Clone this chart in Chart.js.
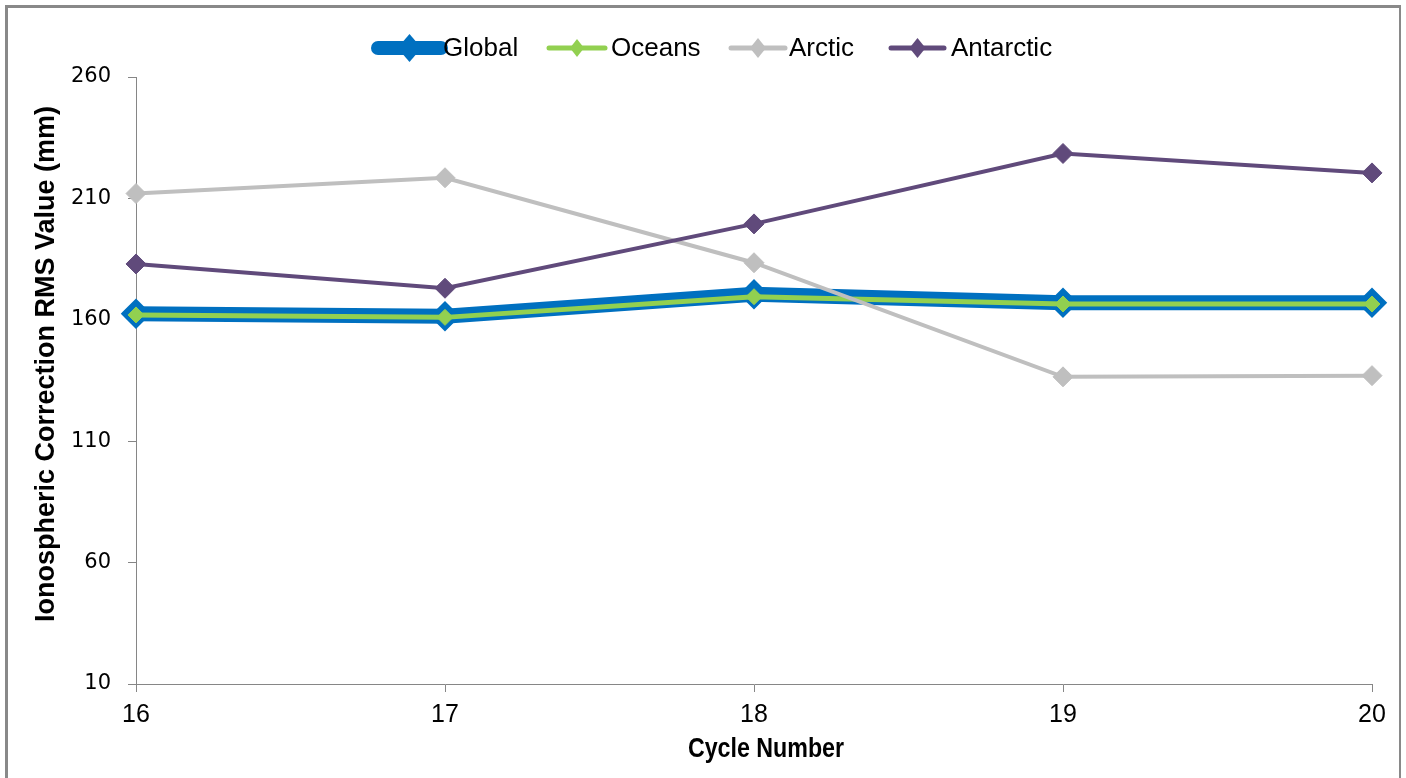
<!DOCTYPE html>
<html>
<head>
<meta charset="utf-8">
<script src="https://cdn.jsdelivr.net/npm/chart.js@4.4.1/dist/chart.umd.min.js"></script>
<style>
  html, body { margin: 0; padding: 0; background: #ffffff; }
  #wrap { position: relative; width: 1406px; height: 778px; }
  canvas { display: block; }
</style>
</head>
<body>
<div id="wrap"><canvas id="c" width="1406" height="778"></canvas></div>
<script>
// ---- data ----
const cycles = ['16', '17', '18', '19', '20'];
const globalVals    = [162.5, 161.5, 170.5, 167.0, 167.0];
const oceansVals    = [162.0, 161.0, 169.5, 166.5, 166.5];
const arcticVals    = [212.0, 218.5, 183.5, 136.5, 137.0];
const antarcticVals = [183.0, 173.0, 199.5, 228.5, 220.5];
const seriesNames = ['Global', 'Oceans', 'Arctic', 'Antarctic'];
const yTicks = [10, 60, 110, 160, 210, 260];
const yTitle = 'Ionospheric Correction RMS Value (mm)';
const xTitle = 'Cycle Number';

const colors = { Global: '#0070C0', Oceans: '#92D050', Arctic: '#BFBFBF', Antarctic: '#604A7B' };

const chromePlugin = {
  id: 'chrome',
  afterDraw(chart) {
    const ctx = chart.ctx;
    ctx.save();
    // outer frame
    ctx.fillStyle = '#898989';
    ctx.fillRect(5, 5, 1396, 3);
    ctx.fillRect(5, 5, 3, 773);
    ctx.fillRect(1399, 5, 2, 773);

    // legend
    const legend = [
      { name: 'Global',    x1: 378, x2: 441, lw: 14, r: 12, tx: 443 },
      { name: 'Oceans',    x1: 549, x2: 605, lw: 5,  r: 7,  tx: 611 },
      { name: 'Arctic',    x1: 731, x2: 785, lw: 5,  r: 8,  tx: 789 },
      { name: 'Antarctic', x1: 891, x2: 944, lw: 5,  r: 8,  tx: 951 }
    ];
    const ly = 48;
    legend.forEach(it => {
      const col = colors[it.name];
      ctx.strokeStyle = col;
      ctx.lineWidth = it.lw;
      ctx.lineCap = 'round';
      ctx.beginPath();
      ctx.moveTo(it.x1, ly);
      ctx.lineTo(it.x2, ly);
      ctx.stroke();
      const cx = (it.x1 + it.x2) / 2;
      ctx.fillStyle = col;
      ctx.beginPath();
      ctx.moveTo(cx - it.r, ly);
      ctx.lineTo(cx, ly - it.r - 2);
      ctx.lineTo(cx + it.r, ly);
      ctx.lineTo(cx, ly + it.r + 2);
      ctx.closePath();
      ctx.fill();
      ctx.fillStyle = '#000000';
      ctx.font = '26px "Liberation Sans", Arial, sans-serif';
      ctx.textAlign = 'left';
      ctx.textBaseline = 'middle';
      ctx.fillText(it.name, it.tx, ly + 1);
    });

    // axis titles
    ctx.fillStyle = '#000000';
    ctx.font = 'bold 27px "Liberation Sans", Arial, sans-serif';
    ctx.textAlign = 'center';
    ctx.textBaseline = 'middle';
    // x title
    ctx.save();
    ctx.translate(766, 750);
    ctx.scale(0.86, 1);
    ctx.fillText(xTitle, 0, 0);
    ctx.restore();
    // y title
    ctx.save();
    ctx.translate(47, 364);
    ctx.rotate(-Math.PI / 2);
    ctx.fillText(yTitle, 0, 0);
    ctx.restore();
    ctx.restore();
  }
};

new Chart(document.getElementById('c'), {
  type: 'line',
  data: {
    labels: cycles,
    datasets: [
      {
        label: seriesNames[0], data: globalVals, order: 3,
        borderColor: colors.Global, backgroundColor: colors.Global,
        borderWidth: 15, pointStyle: 'rectRot', pointRadius: 11,
        pointBorderWidth: 6, pointBorderColor: colors.Global, pointBackgroundColor: colors.Global,
        tension: 0, clip: false
      },
      {
        label: seriesNames[1], data: oceansVals, order: 2,
        borderColor: colors.Oceans, backgroundColor: colors.Oceans,
        borderWidth: 5, pointStyle: 'rectRot', pointRadius: 8,
        pointBorderWidth: 1, pointBorderColor: colors.Oceans, pointBackgroundColor: colors.Oceans,
        tension: 0, clip: false
      },
      {
        label: seriesNames[2], data: arcticVals, order: 1,
        borderColor: colors.Arctic, backgroundColor: colors.Arctic,
        borderWidth: 4, pointStyle: 'rectRot', pointRadius: 10,
        pointBorderWidth: 1, pointBorderColor: colors.Arctic, pointBackgroundColor: colors.Arctic,
        tension: 0, clip: false
      },
      {
        label: seriesNames[3], data: antarcticVals, order: 0,
        borderColor: colors.Antarctic, backgroundColor: colors.Antarctic,
        borderWidth: 4, pointStyle: 'rectRot', pointRadius: 10,
        pointBorderWidth: 1, pointBorderColor: colors.Antarctic, pointBackgroundColor: colors.Antarctic,
        tension: 0, clip: false
      }
    ]
  },
  options: {
    responsive: false,
    animation: false,
    events: [],
    layout: { padding: { top: 77, right: 34, left: 0, bottom: 0 } },
    plugins: { legend: { display: false }, title: { display: false }, tooltip: { enabled: false } },
    scales: {
      x: {
        type: 'category',
        offset: false,
        afterFit(scale) { scale.height = 94; },
        grid: { display: true, drawOnChartArea: false, drawTicks: true, tickLength: 8, color: '#868686', lineWidth: 1 },
        border: { display: true, color: '#868686', width: 1 },
        ticks: { color: '#000000', font: { family: '"Liberation Sans", Arial, sans-serif', size: 25 }, padding: 8, maxRotation: 0, autoSkip: false }
      },
      y: {
        type: 'linear',
        min: 10, max: 260,
        afterFit(scale) { scale.width = 136; },
        afterBuildTicks(scale) { scale.ticks = yTicks.map(v => ({ value: v })); },
        grid: { display: true, drawOnChartArea: false, drawTicks: true, tickLength: 8, color: '#868686', lineWidth: 1 },
        border: { display: true, color: '#868686', width: 1 },
        ticks: { color: '#000000', font: { family: '"DejaVu Sans", sans-serif', size: 21 }, padding: 17 }
      }
    }
  },
  plugins: [chromePlugin]
});
</script>
</body>
</html>
